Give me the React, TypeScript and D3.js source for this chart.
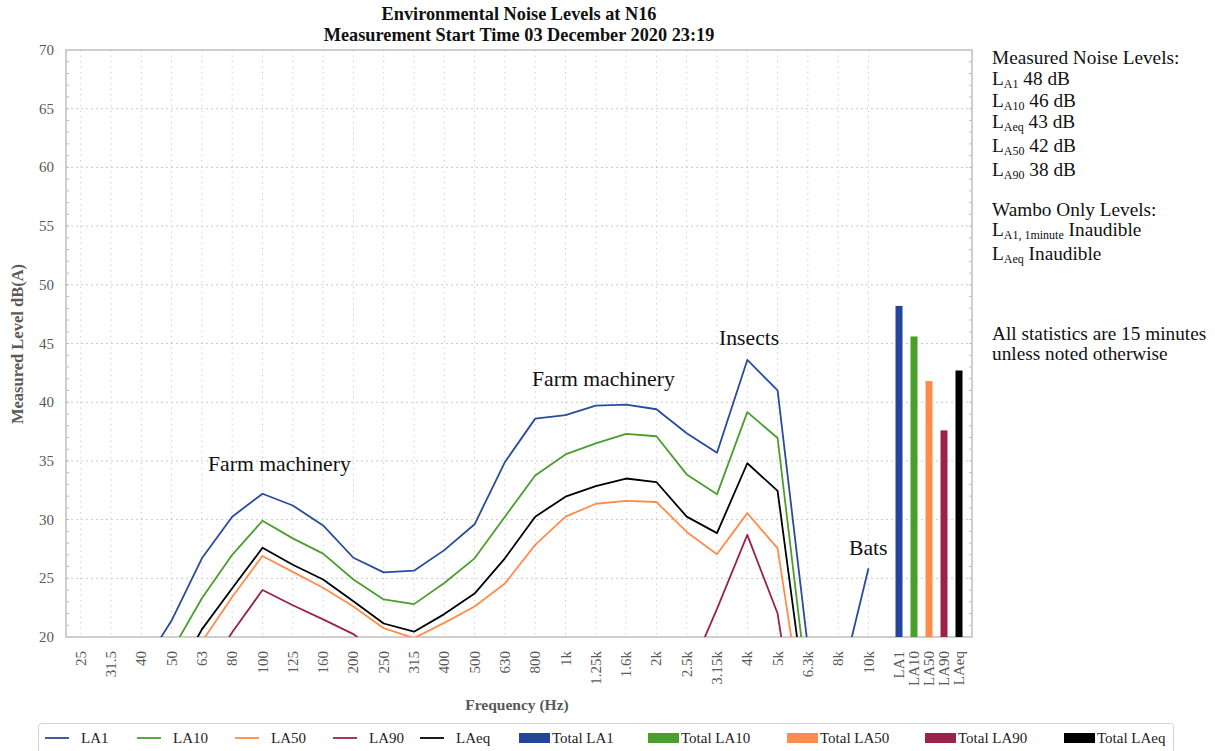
import React, { useEffect, useRef } from 'react';
import * as d3 from 'd3';

// third-octave band centres
const frequencies = ['25', '31.5', '40', '50', '63', '80', '100', '125', '160', '200', '250', '315', '400', '500', '630', '800', '1k', '1.25k', '1.6k', '2k', '2.5k', '3.15k', '4k', '5k', '6.3k', '8k', '10k'];

// levels in dB(A), the parts below 20 are cut off by the axis
const la1 = [15.5, 16.0, 17.3, 21.4, 26.7, 30.25, 32.2, 31.2, 29.5, 26.75, 25.5, 25.65, 27.4, 29.6, 34.9, 38.6, 38.9, 39.7, 39.8, 39.4, 37.35, 35.7, 43.6, 41.0, 19.1, 15.2, 25.85];
const la10 = [13.5, 14.0, 15.5, 18.8, 23.3, 27.0, 29.9, 28.4, 27.1, 24.9, 23.2, 22.8, 24.6, 26.7, 30.25, 33.75, 35.55, 36.5, 37.3, 37.1, 33.85, 32.15, 39.15, 36.95, 15.2, 12.5, 14.0];
const la50 = [11.5, 12.0, 13.0, 16.0, 19.6, 23.4, 26.9, 25.55, 24.2, 22.6, 20.75, 19.9, 21.2, 22.6, 24.55, 27.85, 30.25, 31.35, 31.6, 31.5, 28.95, 27.05, 30.55, 27.55, 10.8, 9.5, 10.5];
const la90 = [9.0, 9.5, 10.5, 13.0, 16.4, 20.4, 24.0, 22.7, 21.5, 20.25, 18.2, 17.3, 17.6, 18.0, 18.4, 18.8, 19.0, 19.2, 19.2, 19.0, 16.4, 22.4, 28.7, 22.0, 5.3, 4.5, 5.0];
const laeq = [12.5, 13.0, 14.0, 16.0, 20.65, 24.15, 27.6, 26.15, 24.9, 23.05, 21.15, 20.45, 21.95, 23.7, 26.7, 30.25, 31.95, 32.85, 33.5, 33.2, 30.25, 28.85, 34.8, 32.45, 13.0, 11.5, 12.0];

const totalLabels = ['LA1', 'LA10', 'LA50', 'LA90', 'LAeq'];
const totalValues = [48.2, 45.6, 41.8, 37.6, 42.7];

const seriesNames = ['LA1', 'LA10', 'LA50', 'LA90', 'LAeq'];
const seriesColors = ['#2a4b9c', '#4a9e2c', '#ff8c4b', '#9b2248', '#000000'];
const barColors = ['#24459b', '#48a02a', '#ff8c4b', '#9b2248', '#000000'];

const yTicks = [20, 25, 30, 35, 40, 45, 50, 55, 60, 65, 70];

const measuredSubs = ['A1', 'A10', 'Aeq', 'A50', 'A90'];
const measuredValues = [48, 46, 43, 42, 38];

const annotations = [
  { text: 'Farm machinery', x: 208, y: 471 },
  { text: 'Farm machinery', x: 532, y: 386 },
  { text: 'Insects', x: 719, y: 345 },
  { text: 'Bats', x: 849, y: 555 },
];

const FONT = "'Liberation Serif', 'Times New Roman', serif";

export default function App() {
  const ref = useRef<SVGSVGElement>(null);

  useEffect(() => {
    const svg = d3.select(ref.current);
    svg.selectAll('*').remove();

    const left = 66;
    const right = 972;
    const top = 50;
    const bottom = 637;

    const x = d3.scalePoint<string>().domain(frequencies).range([80.7, 868.5]);
    const xTotal = d3.scalePoint<string>().domain(totalLabels).range([899, 959]);
    const y = d3.scaleLinear().domain([20, 70]).range([bottom, top]);

    svg.append('rect').attr('width', 1215).attr('height', 751).style('fill', 'white');

    svg
      .append('defs')
      .append('clipPath')
      .attr('id', 'plot-clip')
      .append('rect')
      .attr('x', left)
      .attr('y', top)
      .attr('width', right - left)
      .attr('height', bottom - top);

    // grid
    svg
      .selectAll()
      .data(yTicks.filter((d) => d > 20 && d < 70))
      .enter()
      .append('line')
      .attr('x1', left)
      .attr('x2', right)
      .attr('y1', (d) => y(d))
      .attr('y2', (d) => y(d))
      .style('stroke', '#c9c9c9')
      .style('stroke-width', 1)
      .style('stroke-dasharray', '2,3');

    svg
      .selectAll()
      .data(frequencies)
      .enter()
      .append('line')
      .attr('x1', (d) => x(d))
      .attr('x2', (d) => x(d))
      .attr('y1', top)
      .attr('y2', bottom)
      .style('stroke', '#d0d0d0')
      .style('stroke-width', 1)
      .style('stroke-dasharray', '1.5,4');

    // minor ticks on both sides
    const minor = d3.range(21, 70);
    svg
      .selectAll()
      .data(minor)
      .enter()
      .append('line')
      .attr('x1', left)
      .attr('x2', left + 3)
      .attr('y1', (d) => y(d))
      .attr('y2', (d) => y(d))
      .style('stroke', '#bdbdbd');
    svg
      .selectAll()
      .data(minor)
      .enter()
      .append('line')
      .attr('x1', right - 3)
      .attr('x2', right)
      .attr('y1', (d) => y(d))
      .attr('y2', (d) => y(d))
      .style('stroke', '#bdbdbd');

    // frame
    svg
      .append('rect')
      .attr('x', left)
      .attr('y', top)
      .attr('width', right - left)
      .attr('height', bottom - top)
      .style('fill', 'none')
      .style('stroke', '#bfbfbf')
      .style('stroke-width', 1.5);

    // total bars
    svg
      .selectAll()
      .data(totalValues)
      .enter()
      .append('rect')
      .attr('x', (d, i) => xTotal(totalLabels[i]) - 3.5)
      .attr('y', (d) => y(d))
      .attr('width', 7)
      .attr('height', (d) => bottom - y(d))
      .style('fill', (d, i) => barColors[i]);

    // spectrum lines
    const valueLine = d3
      .line<number>()
      .x((d, i) => x(frequencies[i]))
      .y((d) => y(d));

    const plot = svg.append('g').attr('clip-path', 'url(#plot-clip)');
    [la1, la10, la50, la90, laeq].forEach((series, i) => {
      plot
        .append('path')
        .datum(series)
        .attr('d', valueLine)
        .style('fill', 'none')
        .style('stroke', seriesColors[i])
        .style('stroke-width', 1.8)
        .style('stroke-linejoin', 'round');
    });

    // y axis labels
    svg
      .selectAll()
      .data(yTicks)
      .enter()
      .append('text')
      .attr('x', 54)
      .attr('y', (d) => y(d) + 5)
      .attr('text-anchor', 'end')
      .style('font-family', FONT)
      .style('font-size', '15px')
      .style('fill', '#595959')
      .text((d) => d);

    // x axis labels
    const xLabel = (label: string, pos: number) =>
      svg
        .append('text')
        .attr('transform', 'translate(' + (pos + 5) + ',651) rotate(-90)')
        .attr('text-anchor', 'end')
        .style('font-family', FONT)
        .style('font-size', '15px')
        .style('fill', '#595959')
        .text(label);
    frequencies.forEach((f) => xLabel(f, x(f)));
    totalLabels.forEach((t) => xLabel(t, xTotal(t)));

    // axis titles
    svg
      .append('text')
      .attr('x', 517)
      .attr('y', 710)
      .attr('text-anchor', 'middle')
      .style('font-family', FONT)
      .style('font-size', '15.5px')
      .style('font-weight', 'bold')
      .style('fill', '#595959')
      .text('Frequency (Hz)');

    svg
      .append('text')
      .attr('transform', 'translate(23,344) rotate(-90)')
      .attr('text-anchor', 'middle')
      .style('font-family', FONT)
      .style('font-size', '16.5px')
      .style('font-weight', 'bold')
      .style('fill', '#595959')
      .text('Measured Level dB(A)');

    // title
    const title = svg
      .append('text')
      .attr('text-anchor', 'middle')
      .style('font-family', FONT)
      .style('font-size', '18.3px')
      .style('font-weight', 'bold')
      .style('fill', '#111');
    title.append('tspan').attr('x', 519).attr('y', 20).text('Environmental Noise Levels at N16');
    title.append('tspan').attr('x', 519).attr('y', 41).text('Measurement Start Time 03 December 2020 23:19');

    // annotations
    svg
      .selectAll()
      .data(annotations)
      .enter()
      .append('text')
      .attr('x', (d) => d.x)
      .attr('y', (d) => d.y)
      .style('font-family', FONT)
      .style('font-size', '21.7px')
      .style('fill', '#111')
      .text((d) => d.text);

    // side panel
    const panelText = (yy: number) =>
      svg
        .append('text')
        .attr('x', 992)
        .attr('y', yy)
        .style('font-family', FONT)
        .style('font-size', '19.3px')
        .style('fill', '#111');

    panelText(64).text('Measured Noise Levels:');
    const measuredY = [85, 107, 128, 152, 176];
    measuredSubs.forEach((s, i) => {
      const t = panelText(measuredY[i]);
      t.append('tspan').text('L');
      t.append('tspan').attr('dy', 3).style('font-size', '12px').text(s);
      t.append('tspan').attr('dy', -3).text(' ' + measuredValues[i] + ' dB');
    });

    panelText(216).text('Wambo Only Levels:');
    let t = panelText(236);
    t.append('tspan').text('L');
    t.append('tspan').attr('dy', 3).style('font-size', '12px').text('A1, 1minute');
    t.append('tspan').attr('dy', -3).text(' Inaudible');
    t = panelText(260);
    t.append('tspan').text('L');
    t.append('tspan').attr('dy', 3).style('font-size', '12px').text('Aeq');
    t.append('tspan').attr('dy', -3).text(' Inaudible');

    panelText(340).text('All statistics are 15 minutes');
    panelText(360).text('unless noted otherwise');

    // legend
    svg
      .append('rect')
      .attr('x', 38.5)
      .attr('y', 723.5)
      .attr('width', 1135)
      .attr('height', 40)
      .attr('rx', 3)
      .style('fill', 'white')
      .style('stroke', '#d4d4d4');

    const lineItemX = [45, 137, 235, 333, 420];
    seriesNames.forEach((name, i) => {
      svg
        .append('line')
        .attr('x1', lineItemX[i])
        .attr('x2', lineItemX[i] + 24)
        .attr('y1', 738)
        .attr('y2', 738)
        .style('stroke', seriesColors[i])
        .style('stroke-width', 1.8);
      svg
        .append('text')
        .attr('x', lineItemX[i] + 36)
        .attr('y', 743)
        .style('font-family', FONT)
        .style('font-size', '15px')
        .style('fill', '#222')
        .text(name);
    });

    const barItemX = [519, 648, 787, 925, 1064];
    totalLabels.forEach((name, i) => {
      svg
        .append('rect')
        .attr('x', barItemX[i])
        .attr('y', 733)
        .attr('width', 31)
        .attr('height', 10)
        .style('fill', barColors[i]);
      svg
        .append('text')
        .attr('x', barItemX[i] + 33)
        .attr('y', 743)
        .style('font-family', FONT)
        .style('font-size', '15px')
        .style('fill', '#222')
        .text('Total ' + name);
    });
  }, []);

  return (
    <svg
      ref={ref}
      width={1215}
      height={751}
      style={{ position: 'absolute', left: 0, top: 0, display: 'block' }}
    />
  );
}
